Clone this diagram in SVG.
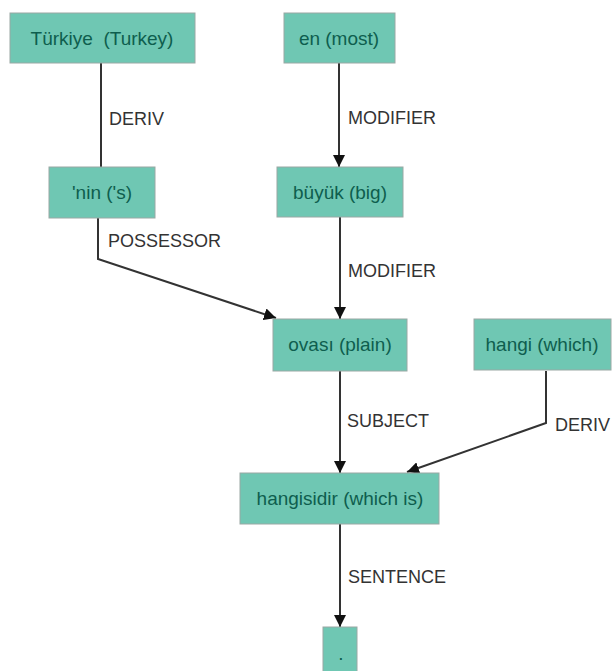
<svg xmlns="http://www.w3.org/2000/svg" width="612" height="671" viewBox="0 0 612 671">
<defs>
<marker id="arr" viewBox="0 0 12 12" refX="12" refY="6" markerWidth="12" markerHeight="12" markerUnits="userSpaceOnUse" orient="auto">
<path d="M0,0 L12,6 L0,12 Z" fill="#111"/>
</marker>
<style>
.box{fill:#6FC7B3;stroke:#9aa8a4;stroke-width:1}
.nt{font-family:"Liberation Sans",Arial,sans-serif;font-size:19px;fill:#0E5E4E;text-anchor:middle}
.lb{font-family:"Liberation Sans",Arial,sans-serif;font-size:18px;fill:#333}
.ln{fill:none;stroke:#333;stroke-width:2}
</style>
</defs>
<rect width="612" height="671" fill="#fff"/>
<g id="connectors">
<path class="ln" d="M101,63 V167"/>
<path class="ln" d="M339,63 V167" marker-end="url(#arr)"/>
<path class="ln" d="M340,217 V319" marker-end="url(#arr)"/>
<path class="ln" d="M98,218 V259 L276,318" marker-end="url(#arr)"/>
<path class="ln" d="M340,371 V473" marker-end="url(#arr)"/>
<path class="ln" d="M546,371 V423 L407,472" marker-end="url(#arr)"/>
<path class="ln" d="M340,524 V627" marker-end="url(#arr)"/>
<text class="lb" x="109" y="125">DERIV</text>
<text class="lb" x="348" y="124">MODIFIER</text>
<text class="lb" x="108" y="247">POSSESSOR</text>
<text class="lb" x="348" y="277">MODIFIER</text>
<text class="lb" x="347" y="427">SUBJECT</text>
<text class="lb" x="555" y="431">DERIV</text>
<text class="lb" x="348" y="583">SENTENCE</text>
</g>
<g id="turkiye"><rect class="box" x="10" y="13" width="185" height="50"/><text class="nt" x="102" y="45" xml:space="preserve">Türkiye  (Turkey)</text></g>
<g id="en"><rect class="box" x="284" y="13" width="111" height="50"/><text class="nt" x="339" y="45">en (most)</text></g>
<g id="nin"><rect class="box" x="49" y="167" width="106" height="51"/><text class="nt" x="102" y="199">'nin ('s)</text></g>
<g id="buyuk"><rect class="box" x="277" y="167" width="126" height="50"/><text class="nt" x="340" y="199">büyük (big)</text></g>
<g id="ovasi"><rect class="box" x="273" y="319" width="134" height="52"/><text class="nt" x="340" y="351">ovası (plain)</text></g>
<g id="hangi"><rect class="box" x="474" y="319" width="137" height="51"/><text class="nt" x="542" y="351">hangi (which)</text></g>
<g id="hangisidir"><rect class="box" x="240" y="473" width="199" height="51"/><text class="nt" x="340" y="505">hangisidir (which is)</text></g>
<g id="dot"><rect class="box" x="323" y="627" width="34" height="50"/><text class="nt" x="341" y="660">.</text></g>
</svg>
